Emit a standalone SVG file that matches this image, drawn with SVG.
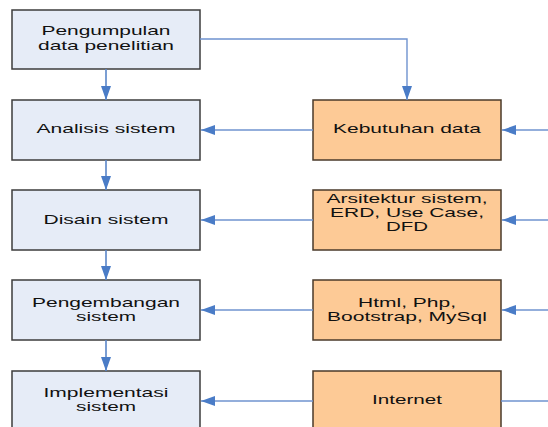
<svg xmlns="http://www.w3.org/2000/svg" width="548" height="427" viewBox="0 0 548 427">
<style>
.l{fill:#e6ecf7;stroke:#3c3c3c;stroke-width:1.5}
.r{fill:#fdca96;stroke:#4a3a2a;stroke-width:1.5}
.t{font-family:"Liberation Sans",Arial,sans-serif;font-size:13px;fill:#111;text-anchor:middle}
.c{fill:none;stroke:#6f93cf;stroke-width:1.4}
.d{fill:none;stroke:#5a86c8;stroke-width:1.6}
</style>
<defs>
<marker id="a" viewBox="0 0 14 10" refX="14" refY="5" markerWidth="14" markerHeight="10" markerUnits="userSpaceOnUse" orient="auto">
<path d="M0,0 L14,5 L0,10 Z" fill="#4a7cc7"/>
</marker>
</defs>
<g id="n1"><rect class="l" x="12" y="10" width="188" height="59"/>
<text class="t" x="106" y="35" textLength="129" lengthAdjust="spacingAndGlyphs">Pengumpulan</text>
<text class="t" x="106" y="50" textLength="136" lengthAdjust="spacingAndGlyphs">data penelitian</text></g>
<g id="n2"><rect class="l" x="12" y="100" width="188" height="60"/>
<text class="t" x="106" y="133" textLength="139" lengthAdjust="spacingAndGlyphs">Analisis sistem</text></g>
<g id="n3"><rect class="l" x="12" y="190" width="188" height="60"/>
<text class="t" x="106" y="224" textLength="125" lengthAdjust="spacingAndGlyphs">Disain sistem</text></g>
<g id="n4"><rect class="l" x="12" y="280" width="188" height="60"/>
<text class="t" x="106" y="307" textLength="148" lengthAdjust="spacingAndGlyphs">Pengembangan</text>
<text class="t" x="106" y="321" textLength="60" lengthAdjust="spacingAndGlyphs">sistem</text></g>
<g id="n5"><rect class="l" x="12" y="371" width="188" height="60"/>
<text class="t" x="106" y="397" textLength="125" lengthAdjust="spacingAndGlyphs">Implementasi</text>
<text class="t" x="106" y="411" textLength="60" lengthAdjust="spacingAndGlyphs">sistem</text></g>
<g id="r1"><rect class="r" x="313" y="100" width="188" height="60"/>
<text class="t" x="407" y="133" textLength="148" lengthAdjust="spacingAndGlyphs">Kebutuhan data</text></g>
<g id="r2"><rect class="r" x="313" y="190" width="188" height="60"/>
<text class="t" x="407" y="203" textLength="161" lengthAdjust="spacingAndGlyphs">Arsitektur sistem,</text>
<text class="t" x="407" y="217" textLength="154" lengthAdjust="spacingAndGlyphs">ERD, Use Case,</text>
<text class="t" x="407" y="231" textLength="42" lengthAdjust="spacingAndGlyphs">DFD</text></g>
<g id="r3"><rect class="r" x="313" y="280" width="188" height="60"/>
<text class="t" x="407" y="307" textLength="98" lengthAdjust="spacingAndGlyphs">Html, Php,</text>
<text class="t" x="407" y="321" textLength="160" lengthAdjust="spacingAndGlyphs">Bootstrap, MySql</text></g>
<g id="r4"><rect class="r" x="313" y="371" width="188" height="60"/>
<text class="t" x="407" y="404" textLength="70" lengthAdjust="spacingAndGlyphs">Internet</text></g>
<g id="connectors">
<path class="d" d="M106,69 V100" marker-end="url(#a)"/>
<path class="d" d="M106,160 V190" marker-end="url(#a)"/>
<path class="d" d="M106,250 V280" marker-end="url(#a)"/>
<path class="d" d="M106,340 V371" marker-end="url(#a)"/>
<path class="c" d="M200,39 H407 V100" marker-end="url(#a)"/>
<path class="c" d="M313,130 H201" marker-end="url(#a)"/>
<path class="c" d="M313,220 H201" marker-end="url(#a)"/>
<path class="c" d="M313,310 H201" marker-end="url(#a)"/>
<path class="c" d="M313,401 H201" marker-end="url(#a)"/>
<path class="c" d="M548,130 H502" marker-end="url(#a)"/>
<path class="c" d="M548,220 H502" marker-end="url(#a)"/>
<path class="c" d="M548,310 H502" marker-end="url(#a)"/>
<path class="c" d="M501,401 H548"/>
</g>
</svg>
